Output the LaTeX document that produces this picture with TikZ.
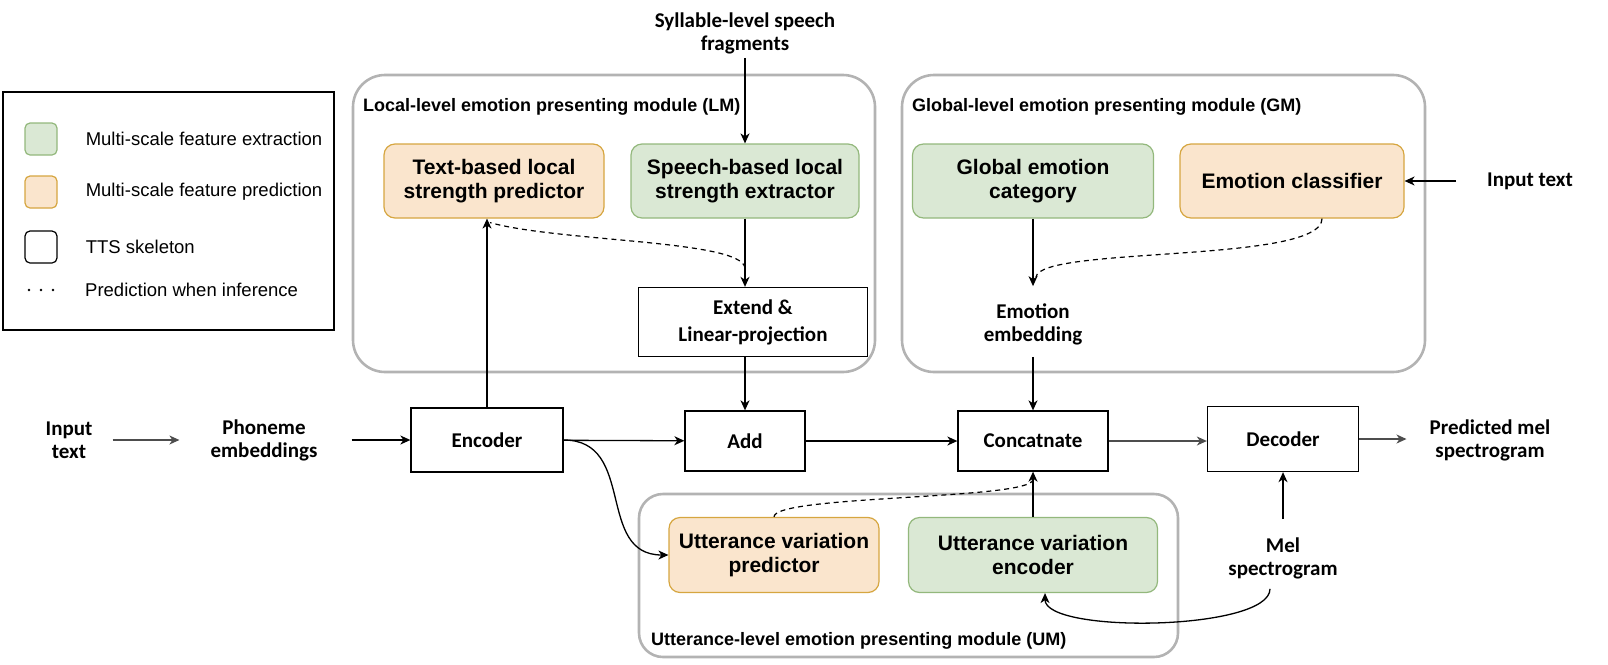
\documentclass[tikz,border=0pt]{standalone}
\usepackage{fontspec}
\setmainfont{Liberation Sans}
\newfontfamily\calfont{Carlito}
\usetikzlibrary{arrows.meta,positioning}

\definecolor{extfill}{HTML}{DAE8D4}
\definecolor{extdraw}{HTML}{93B87C}
\definecolor{prefill}{HTML}{FAE5CD}
\definecolor{predraw}{HTML}{D6A640}
\definecolor{modgray}{HTML}{B3B3B3}
\definecolor{arrgray}{HTML}{4D4D4D}

\begin{document}
\begin{tikzpicture}[%
    x=1pt, y=-1pt,
    >={Stealth[length=10pt,width=9pt,inset=3pt]},
    module/.style={
        draw=modgray,
        line width=2.6pt,
        rounded corners=32pt},
    modlabel/.style={
        anchor=west,
        inner sep=0pt,
        font=\fontsize{18}{21}\selectfont\bfseries},
    extractbox/.style={
        draw=extdraw,
        fill=extfill,
        line width=1.2pt,
        rounded corners=11pt,
        align=center,
        minimum height=74pt,
        font=\fontsize{21}{24}\selectfont\bfseries},
    predictbox/.style={extractbox, draw=predraw, fill=prefill},
    ttsbox/.style={
        draw,
        line width=1.3pt,
        align=center,
        minimum height=62pt,
        font=\calfont\fontsize{21}{27}\selectfont\bfseries},
    plaintext/.style={
        align=center,
        inner sep=0pt,
        font=\calfont\fontsize{21}{23}\selectfont\bfseries},
    link/.style={->, line width=1.3pt},
    graylink/.style={->, line width=1.3pt, draw=arrgray, arrgray},
    predlink/.style={line width=1.2pt, dash pattern=on 5pt off 4pt},
    swatch/.style={
        minimum size=32pt,
        inner sep=0pt,
        rounded corners=5pt,
        line width=1.2pt},
    legtext/.style={
        anchor=west,
        inner sep=0pt,
        font=\fontsize{18.5}{22}\selectfont}
]

\useasboundingbox (0,0) rectangle (1608,664);

% legend
\draw[line width=1.2pt] (3,92) rectangle (334,330);
\node[swatch, draw=extdraw, fill=extfill] (legext) at (41,139) {};
\node[swatch, draw=predraw, fill=prefill] (legpred) at (41,192) {};
\node[swatch, draw=black] (legtts) at (41,247) {};
\coordinate (legdots) at (41,290);
\foreach \dx in {-12,0,12}
    \fill ([xshift=\dx pt]legdots) circle (1.3pt);
\node[legtext, right=28pt of legext] {Multi-scale feature extraction};
\node[legtext, right=28pt of legpred] {Multi-scale feature prediction};
\node[legtext, right=28pt of legtts] {TTS skeleton};
\node[legtext] at (85,290) {Prediction when inference};

% modules
\draw[module] (353,75) rectangle (875,372);
\draw[module] (902,75) rectangle (1425,372);
\draw[module, rounded corners=24pt] (639,494) rectangle (1178,657);
\node[modlabel] (lmlabel) at (363,107) {Local-level emotion presenting module (LM)};
\node[modlabel] (gmlabel) at (912,107) {Global-level emotion presenting module (GM)};
\node[modlabel] (umlabel) at (651,641) {Utterance-level emotion presenting module (UM)};

% local module
\node[plaintext] (syllable) at (745,33) {Syllable-level speech\\fragments};
\node[predictbox, minimum width=220pt] (textpred) at (494,181) {Text-based local\\strength predictor};
\node[extractbox, minimum width=228pt] (speechext) at (745,181) {Speech-based local\\strength extractor};
\node[ttsbox, minimum width=229pt, minimum height=69pt] (extend) at (753,322) {Extend \&\\Linear-projection};

% global module
\node[extractbox, minimum width=241pt] (globcat) at (1033,181) {Global emotion\\category};
\node[predictbox, minimum width=224pt] (classifier) at (1292,181) {Emotion classifier};
\node[plaintext] (emoemb) at (1033,324) {Emotion\\embedding};
\node[plaintext] (intextgm) at (1530,181) {Input text};

% TTS skeleton
\node[plaintext] (intext) at (69,440) {Input\\text};
\node[plaintext] (phoneme) at (264,440) {Phoneme\\embeddings};
\node[ttsbox, minimum width=152pt, minimum height=64pt] (encoder) at (487,440) {Encoder};
\node[ttsbox, minimum width=120pt, minimum height=60pt] (add) at (745,441) {Add};
\node[ttsbox, minimum width=150pt, minimum height=60pt] (concat) at (1033,441) {Concatnate};
\node[ttsbox, minimum width=151pt, minimum height=65pt] (decoder) at (1283,439) {Decoder};
\node[plaintext] (predmel) at (1490,440) {Predicted mel\\spectrogram};

% utterance module
\node[predictbox, minimum width=210pt, minimum height=75pt] (uttpred) at (774,555) {Utterance variation\\predictor};
\node[extractbox, minimum width=249pt, minimum height=75pt] (uttenc) at (1033,555) {Utterance variation\\encoder};
\node[plaintext] (melspec) at (1283,558) {Mel\\spectrogram};

\coordinate (lmjoin) at (745,268);
\coordinate (gmjoin) at (1036,277);

% connectors
\draw[graylink, shorten <=20pt, shorten >=31pt] (intext) -- (phoneme);
\draw[link, shorten <=34pt] (phoneme) -- (encoder);
\draw[link] (encoder) -- (add);
\draw[link] (add) -- (concat);
\draw[graylink] (concat.east) -- (concat.east -| decoder.west);
\draw[graylink, shorten >=23pt] (decoder.east) -- (decoder.east -| predmel.west);

\draw[link] (encoder) -- (encoder |- textpred.south);
\draw[link, shorten <=4pt] (syllable) -- (speechext);
\draw[link] (speechext) -- (speechext |- extend.north);
\draw[link] (extend.south -| add) -- (add);
\draw[link, shorten >=17pt] (globcat) -- (emoemb);
\draw[link, shorten <=12pt] (emoemb) -- (concat);
\draw[link, shorten <=31pt] (intextgm) -- (classifier);
\draw[link] (uttenc) -- (concat);
\draw[link, shorten <=18pt] (melspec) -- (decoder);

\draw[link] (encoder.east) to[out=0, in=180, looseness=1.2] (uttpred.west);
\draw[link] ([xshift=-13pt, yshift=-10pt]melspec.south) .. controls +(0,42) and +(0,41) .. ([xshift=12pt]uttenc.south);

% prediction when inference
\draw[predlink] (lmjoin) .. controls (742,240) and (560,242) .. ([xshift=-4pt, yshift=-4pt]textpred.south);
\draw[predlink] ([xshift=30pt]classifier.south) .. controls +(0,45) and (1040,246) .. (gmjoin);
\draw[predlink] (uttpred.north) .. controls +(0,-22) and (1030,500) .. ([yshift=-8pt]concat.south);

\end{tikzpicture}
\end{document}
